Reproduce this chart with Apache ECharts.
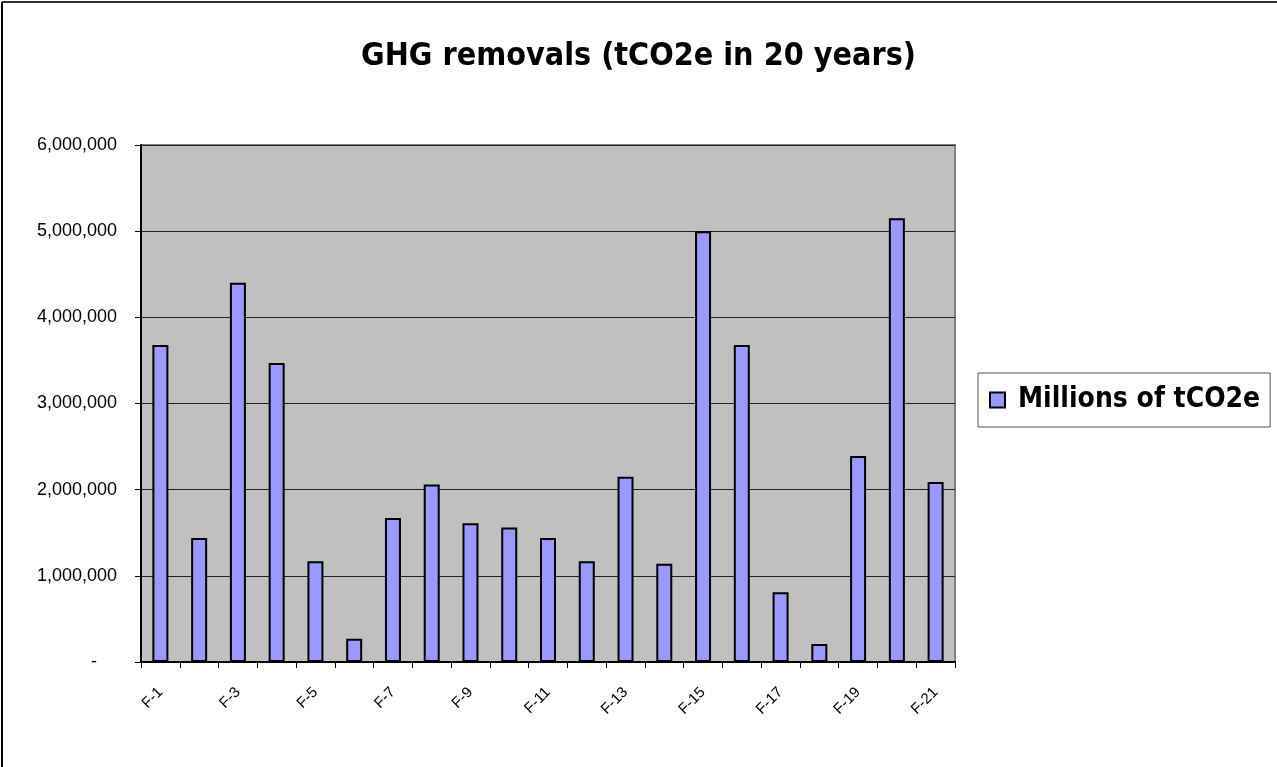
<!DOCTYPE html>
<html>
<head>
<meta charset="utf-8">
<script src="https://cdn.jsdelivr.net/npm/echarts@6/dist/echarts.min.js"></script>
<style>
    html, body { margin: 0; padding: 0; background: #ffffff; }
    #chart { width: 1277px; height: 767px; }
</style>
</head>
<body>
<div id="chart"></div>
<script>
    // categories F-1 .. F-21
    var categories = ['F-1', 'F-2', 'F-3', 'F-4', 'F-5', 'F-6', 'F-7', 'F-8', 'F-9', 'F-10', 'F-11',
        'F-12', 'F-13', 'F-14', 'F-15', 'F-16', 'F-17', 'F-18', 'F-19', 'F-20', 'F-21'];
    var removals = [3680000, 1440000, 4400000, 3470000, 1170000, 270000, 1670000, 2060000, 1610000, 1560000,
        1440000, 1170000, 2150000, 1140000, 5000000, 3680000, 810000, 210000, 2390000, 5150000, 2090000];
    var yTicks = [0, 1000000, 2000000, 3000000, 4000000, 5000000, 6000000];

    var chart = echarts.init(document.getElementById('chart'));
    var options = {
        animation: false,
        backgroundColor: '#ffffff',
        title: {
            text: 'GHG removals (tCO2e in 20 years)',
            left: 'center',
            top: 36,
            textStyle: {
                fontFamily: 'DejaVu Sans Condensed',
                fontWeight: 'bold',
                fontSize: 32,
                color: '#000000'
            }
        },
        legend: {
            data: ['Millions of tCO2e'],
            left: 978,
            top: 373,
            orient: 'vertical',
            padding: [13, 10, 13, 11],
            itemWidth: 15,
            itemHeight: 15,
            itemGap: 0,
            borderColor: '#555555',
            borderWidth: 1,
            icon: 'rect',
            textStyle: {
                fontFamily: 'DejaVu Sans Condensed',
                fontWeight: 'bold',
                fontSize: 28,
                padding: [0, 0, 0, 8],
                color: '#000000'
            }
        },
        grid: {
            left: 141,
            right: 322,
            top: 145,
            bottom: 105,
            show: true,
            backgroundColor: '#C0C0C0',
            borderColor: '#808080',
            borderWidth: 2
        },
        xAxis: [
            {
                type: 'category',
                data: categories,
                boundaryGap: true,
                axisLine: { show: true, lineStyle: { color: '#000000', width: 2 } },
                axisTick: { show: true, interval: 0, length: 6, lineStyle: { color: '#000000' } },
                axisLabel: {
                    interval: 1,
                    rotate: 45,
                    margin: 28,
                    fontFamily: 'Liberation Sans',
                    fontSize: 15,
                    color: '#000000'
                }
            }
        ],
        yAxis: [
            {
                type: 'value',
                min: yTicks[0],
                max: yTicks[yTicks.length - 1],
                interval: 1000000,
                axisLine: { show: true, lineStyle: { color: '#000000', width: 2 } },
                axisTick: { show: true, length: 6, lineStyle: { color: '#000000' } },
                splitLine: { show: true, lineStyle: { color: '#222222', width: 1 } },
                axisLabel: {
                    margin: 24,
                    fontFamily: 'Liberation Sans',
                    fontSize: 18,
                    color: '#000000',
                    formatter: function (v) {
                        if (v === 0) {
                            return '-    ';
                        }
                        return v.toLocaleString('en-US');
                    }
                }
            }
        ],
        series: [
            {
                name: 'Millions of tCO2e',
                type: 'bar',
                data: removals,
                barWidth: 16,
                itemStyle: {
                    color: '#9999FF',
                    borderColor: '#000000',
                    borderWidth: 2
                }
            }
        ],
        graphic: [
            {
                type: 'line',
                shape: { x1: 2, y1: 2, x2: 1277, y2: 2 },
                style: { stroke: '#333333', lineWidth: 2 }
            },
            {
                type: 'line',
                shape: { x1: 2, y1: 2, x2: 2, y2: 767 },
                style: { stroke: '#000000', lineWidth: 2 }
            }
        ]
    };
    chart.setOption(options);
</script>
</body>
</html>
